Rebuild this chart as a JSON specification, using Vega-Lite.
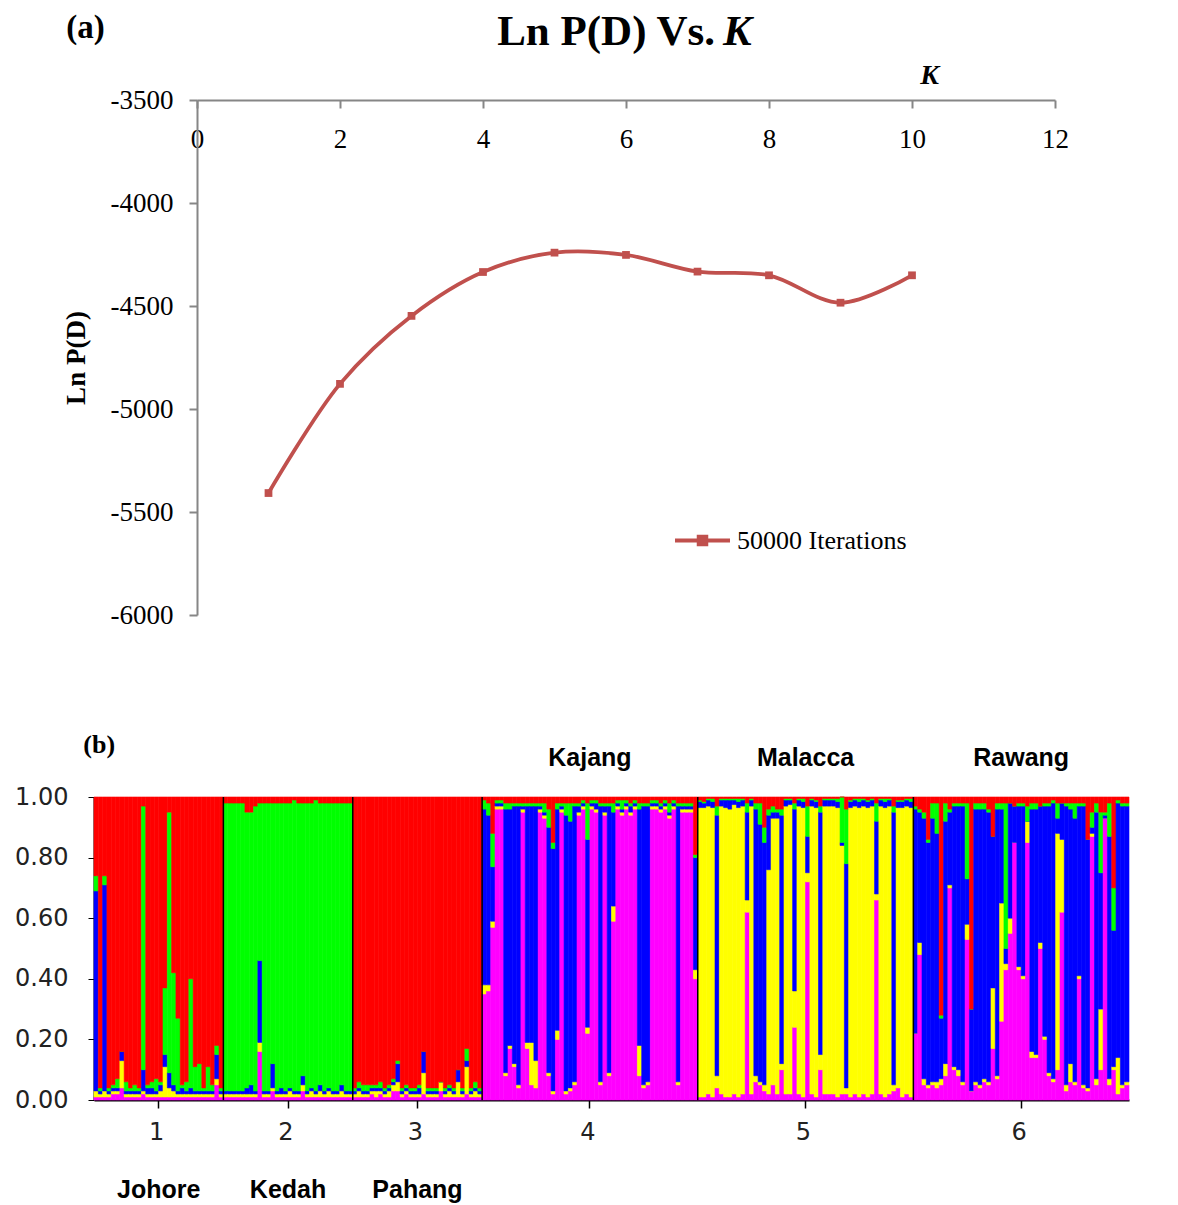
{
"$schema":"https://vega.github.io/schema/vega-lite/v6.json",
"padding":{"left":14,"top":11,"right":0,"bottom":0},
"background":"white",
"config":{"view":{"stroke":null},"font":"Liberation Serif"},
"resolve":{"scale":{"color":"independent","stroke":"independent"},"legend":{"color":"independent","stroke":"independent"}},
"spacing":104,
"vconcat":[
{"hconcat":[
 {"width":103,"height":10,"data":{"values":[{"s":0}]},"mark":{"type":"point","opacity":0},"encoding":{}},
 {"width":858,"height":515,
  "layer":[
   {"data":{"values":[
     {"K":1,"lnP":-5408,"series":"50000 Iterations"},
     {"K":2,"lnP":-4878,"series":"50000 Iterations"},
     {"K":3,"lnP":-4548,"series":"50000 Iterations"},
     {"K":4,"lnP":-4335,"series":"50000 Iterations"},
     {"K":5,"lnP":-4241,"series":"50000 Iterations"},
     {"K":6,"lnP":-4252,"series":"50000 Iterations"},
     {"K":7,"lnP":-4333,"series":"50000 Iterations"},
     {"K":8,"lnP":-4351,"series":"50000 Iterations"},
     {"K":9,"lnP":-4484,"series":"50000 Iterations"},
     {"K":10,"lnP":-4351,"series":"50000 Iterations"}]},
    "mark":{"type":"line","interpolate":"catmull-rom","strokeWidth":3.8,"point":{"shape":"square","filled":true,"size":60}},
    "encoding":{
     "x":{"field":"K","type":"quantitative","scale":{"domain":[0,12],"nice":false,"zero":false},
      "axis":{"orient":"bottom","offset":-515,"values":[0,2,4,6,8,10,12],"labelExpr":"'' + datum.value","grid":false,"domainColor":"#868686","domainWidth":2,"tickColor":"#868686","tickWidth":2,"tickSize":8,"labelFont":"Liberation Serif","labelFontSize":27,"labelColor":"black","labelPadding":18,"labelFlush":false,"labelOverlap":false,
       "title":"K","titleFont":"Liberation Serif","titleFontStyle":"italic","titleFontWeight":"bold","titleFontSize":28,"titleColor":"black","titleX":732,"titleY":-25,"titleBaseline":"middle","titleAlign":"center","titleAngle":0}},
     "y":{"field":"lnP","type":"quantitative","scale":{"domain":[-6000,-3500],"nice":false,"zero":false},
      "axis":{"values":[-6000,-5500,-5000,-4500,-4000,-3500],"labelExpr":"'' + datum.value","grid":false,"domainColor":"#868686","domainWidth":2,"tickColor":"#868686","tickWidth":2,"tickSize":8,"labelFont":"Liberation Serif","labelFontSize":27,"labelColor":"black","labelPadding":16,"labelFlush":false,"labelOverlap":false,
       "title":"Ln P(D)","titleFont":"Liberation Serif","titleFontSize":27,"titleFontWeight":"bold","titleColor":"black","titlePadding":20}},
     "color":{"field":"series","type":"nominal","scale":{"range":["#C0504D"]},
      "legend":{"orient":"none","legendX":579,"legendY":411,"title":null,"padding":0,"symbolType":"M-1,0H1M-0.14,-0.14H0.14V0.14H-0.14Z","symbolSize":3025,"symbolStrokeWidth":3.8,"labelFont":"Liberation Serif","labelFontSize":26,"labelColor":"black","labelOffset":5,"labelLimit":400,
       "encode":{"symbols":{"update":{"fill":{"value":"#C0504D"},"stroke":{"value":"#C0504D"},"strokeWidth":{"value":3.8},"opacity":{"value":1}}}}}}
    }},
   {"data":{"values":[{"t":"(a)"}]},"mark":{"type":"text","font":"Liberation Serif","fontWeight":"bold","fontSize":33,"align":"left","baseline":"middle","color":"black"},
    "encoding":{"x":{"datum":-1.83},"y":{"datum":-3150},"text":{"field":"t"}}},
   {"data":{"values":[{"t":"Ln P(D) Vs."}]},"mark":{"type":"text","font":"Liberation Serif","fontWeight":"bold","fontSize":43,"align":"right","baseline":"middle","color":"black"},
    "encoding":{"x":{"datum":7.245},"y":{"datum":-3170},"text":{"field":"t"}}},
   {"data":{"values":[{"t":"K"}]},"mark":{"type":"text","font":"Liberation Serif","fontWeight":"bold","fontStyle":"italic","fontSize":43,"align":"left","baseline":"middle","color":"black"},
    "encoding":{"x":{"datum":7.357},"y":{"datum":-3170},"text":{"field":"t"}}}
  ]}
],"spacing":0,"bounds":"flush"},
{"width":1035,"height":303,
 "layer":[
  {"data":{"values":[
{"i":1,"c1":0.01,"c2":0.02,"c3":0.66,"c4":0.05,"c5":0.26},
{"i":2,"c1":0.01,"c2":0.01,"c3":0.01,"c4":0.01,"c5":0.96},
{"i":3,"c1":0.01,"c2":0.02,"c3":0.68,"c4":0.03,"c5":0.26},
{"i":4,"c1":0.01,"c2":0.01,"c3":0.01,"c4":0.01,"c5":0.96},
{"i":5,"c1":0.02,"c2":0.01,"c3":0.01,"c4":0.01,"c5":0.95},
{"i":6,"c1":0.02,"c2":0.01,"c3":0.01,"c4":0.03,"c5":0.93},
{"i":7,"c1":0.04,"c2":0.09,"c3":0.03,"c4":0.0,"c5":0.84},
{"i":8,"c1":0.01,"c2":0.01,"c3":0.01,"c4":0.03,"c5":0.94},
{"i":9,"c1":0.01,"c2":0.01,"c3":0.01,"c4":0.01,"c5":0.96},
{"i":10,"c1":0.01,"c2":0.01,"c3":0.01,"c4":0.02,"c5":0.95},
{"i":11,"c1":0.01,"c2":0.01,"c3":0.01,"c4":0.01,"c5":0.96},
{"i":12,"c1":0.02,"c2":0.01,"c3":0.07,"c4":0.87,"c5":0.03},
{"i":13,"c1":0.01,"c2":0.01,"c3":0.02,"c4":0.01,"c5":0.95},
{"i":14,"c1":0.01,"c2":0.01,"c3":0.02,"c4":0.02,"c5":0.94},
{"i":15,"c1":0.01,"c2":0.01,"c3":0.01,"c4":0.04,"c5":0.93},
{"i":16,"c1":0.01,"c2":0.02,"c3":0.02,"c4":0.01,"c5":0.94},
{"i":17,"c1":0.01,"c2":0.10,"c3":0.04,"c4":0.22,"c5":0.63},
{"i":18,"c1":0.01,"c2":0.03,"c3":0.05,"c4":0.86,"c5":0.05},
{"i":19,"c1":0.01,"c2":0.02,"c3":0.02,"c4":0.37,"c5":0.58},
{"i":20,"c1":0.01,"c2":0.01,"c3":0.01,"c4":0.24,"c5":0.73},
{"i":21,"c1":0.01,"c2":0.01,"c3":0.02,"c4":0.01,"c5":0.95},
{"i":22,"c1":0.01,"c2":0.01,"c3":0.01,"c4":0.03,"c5":0.94},
{"i":23,"c1":0.01,"c2":0.01,"c3":0.02,"c4":0.36,"c5":0.60},
{"i":24,"c1":0.01,"c2":0.01,"c3":0.01,"c4":0.08,"c5":0.89},
{"i":25,"c1":0.01,"c2":0.01,"c3":0.01,"c4":0.09,"c5":0.88},
{"i":26,"c1":0.01,"c2":0.01,"c3":0.01,"c4":0.01,"c5":0.96},
{"i":27,"c1":0.01,"c2":0.01,"c3":0.01,"c4":0.08,"c5":0.89},
{"i":28,"c1":0.01,"c2":0.01,"c3":0.01,"c4":0.02,"c5":0.95},
{"i":29,"c1":0.05,"c2":0.02,"c3":0.08,"c4":0.03,"c5":0.82},
{"i":30,"c1":0.01,"c2":0.01,"c3":0.01,"c4":0.01,"c5":0.96},
{"i":31,"c1":0.01,"c2":0.01,"c3":0.01,"c4":0.95,"c5":0.02},
{"i":32,"c1":0.01,"c2":0.01,"c3":0.01,"c4":0.95,"c5":0.02},
{"i":33,"c1":0.01,"c2":0.01,"c3":0.01,"c4":0.95,"c5":0.02},
{"i":34,"c1":0.01,"c2":0.01,"c3":0.01,"c4":0.95,"c5":0.02},
{"i":35,"c1":0.01,"c2":0.01,"c3":0.01,"c4":0.95,"c5":0.02},
{"i":36,"c1":0.01,"c2":0.01,"c3":0.02,"c4":0.91,"c5":0.05},
{"i":37,"c1":0.01,"c2":0.01,"c3":0.03,"c4":0.90,"c5":0.05},
{"i":38,"c1":0.01,"c2":0.01,"c3":0.01,"c4":0.94,"c5":0.03},
{"i":39,"c1":0.16,"c2":0.03,"c3":0.27,"c4":0.52,"c5":0.02},
{"i":40,"c1":0.01,"c2":0.01,"c3":0.01,"c4":0.95,"c5":0.02},
{"i":41,"c1":0.01,"c2":0.01,"c3":0.01,"c4":0.95,"c5":0.02},
{"i":42,"c1":0.03,"c2":0.01,"c3":0.08,"c4":0.86,"c5":0.02},
{"i":43,"c1":0.01,"c2":0.01,"c3":0.01,"c4":0.95,"c5":0.02},
{"i":44,"c1":0.01,"c2":0.01,"c3":0.02,"c4":0.94,"c5":0.02},
{"i":45,"c1":0.01,"c2":0.01,"c3":0.01,"c4":0.95,"c5":0.02},
{"i":46,"c1":0.01,"c2":0.02,"c3":0.01,"c4":0.94,"c5":0.02},
{"i":47,"c1":0.01,"c2":0.01,"c3":0.01,"c4":0.96,"c5":0.01},
{"i":48,"c1":0.01,"c2":0.01,"c3":0.01,"c4":0.95,"c5":0.02},
{"i":49,"c1":0.03,"c2":0.02,"c3":0.03,"c4":0.90,"c5":0.02},
{"i":50,"c1":0.01,"c2":0.01,"c3":0.01,"c4":0.95,"c5":0.02},
{"i":51,"c1":0.01,"c2":0.02,"c3":0.01,"c4":0.94,"c5":0.02},
{"i":52,"c1":0.01,"c2":0.01,"c3":0.01,"c4":0.96,"c5":0.01},
{"i":53,"c1":0.01,"c2":0.02,"c3":0.02,"c4":0.93,"c5":0.02},
{"i":54,"c1":0.01,"c2":0.01,"c3":0.01,"c4":0.95,"c5":0.02},
{"i":55,"c1":0.01,"c2":0.02,"c3":0.01,"c4":0.94,"c5":0.02},
{"i":56,"c1":0.01,"c2":0.01,"c3":0.01,"c4":0.95,"c5":0.02},
{"i":57,"c1":0.01,"c2":0.01,"c3":0.01,"c4":0.95,"c5":0.02},
{"i":58,"c1":0.01,"c2":0.02,"c3":0.02,"c4":0.93,"c5":0.02},
{"i":59,"c1":0.01,"c2":0.01,"c3":0.01,"c4":0.95,"c5":0.02},
{"i":60,"c1":0.01,"c2":0.01,"c3":0.01,"c4":0.95,"c5":0.02},
{"i":61,"c1":0.01,"c2":0.01,"c3":0.01,"c4":0.01,"c5":0.96},
{"i":62,"c1":0.01,"c2":0.02,"c3":0.01,"c4":0.02,"c5":0.94},
{"i":63,"c1":0.01,"c2":0.01,"c3":0.01,"c4":0.02,"c5":0.95},
{"i":64,"c1":0.01,"c2":0.01,"c3":0.01,"c4":0.02,"c5":0.95},
{"i":65,"c1":0.02,"c2":0.01,"c3":0.01,"c4":0.01,"c5":0.95},
{"i":66,"c1":0.01,"c2":0.02,"c3":0.01,"c4":0.01,"c5":0.95},
{"i":67,"c1":0.02,"c2":0.01,"c3":0.01,"c4":0.02,"c5":0.94},
{"i":68,"c1":0.01,"c2":0.01,"c3":0.01,"c4":0.01,"c5":0.96},
{"i":69,"c1":0.01,"c2":0.02,"c3":0.01,"c4":0.01,"c5":0.95},
{"i":70,"c1":0.03,"c2":0.02,"c3":0.01,"c4":0.01,"c5":0.93},
{"i":71,"c1":0.03,"c2":0.03,"c3":0.06,"c4":0.01,"c5":0.87},
{"i":72,"c1":0.01,"c2":0.01,"c3":0.01,"c4":0.01,"c5":0.96},
{"i":73,"c1":0.02,"c2":0.01,"c3":0.01,"c4":0.01,"c5":0.95},
{"i":74,"c1":0.01,"c2":0.01,"c3":0.01,"c4":0.01,"c5":0.96},
{"i":75,"c1":0.01,"c2":0.01,"c3":0.01,"c4":0.01,"c5":0.96},
{"i":76,"c1":0.01,"c2":0.01,"c3":0.02,"c4":0.01,"c5":0.95},
{"i":77,"c1":0.02,"c2":0.07,"c3":0.07,"c4":0.0,"c5":0.84},
{"i":78,"c1":0.01,"c2":0.01,"c3":0.01,"c4":0.01,"c5":0.96},
{"i":79,"c1":0.01,"c2":0.01,"c3":0.01,"c4":0.01,"c5":0.96},
{"i":80,"c1":0.01,"c2":0.01,"c3":0.01,"c4":0.01,"c5":0.96},
{"i":81,"c1":0.03,"c2":0.03,"c3":0.0,"c4":0.0,"c5":0.94},
{"i":82,"c1":0.01,"c2":0.01,"c3":0.01,"c4":0.01,"c5":0.96},
{"i":83,"c1":0.01,"c2":0.02,"c3":0.01,"c4":0.01,"c5":0.95},
{"i":84,"c1":0.01,"c2":0.01,"c3":0.01,"c4":0.01,"c5":0.96},
{"i":85,"c1":0.01,"c2":0.05,"c3":0.04,"c4":0.0,"c5":0.90},
{"i":86,"c1":0.01,"c2":0.01,"c3":0.01,"c4":0.01,"c5":0.96},
{"i":87,"c1":0.02,"c2":0.09,"c3":0.02,"c4":0.04,"c5":0.83},
{"i":88,"c1":0.01,"c2":0.01,"c3":0.01,"c4":0.01,"c5":0.96},
{"i":89,"c1":0.01,"c2":0.02,"c3":0.01,"c4":0.02,"c5":0.94},
{"i":90,"c1":0.01,"c2":0.01,"c3":0.01,"c4":0.01,"c5":0.96},
{"i":91,"c1":0.35,"c2":0.03,"c3":0.58,"c4":0.03,"c5":0.01},
{"i":92,"c1":0.36,"c2":0.02,"c3":0.56,"c4":0.04,"c5":0.02},
{"i":93,"c1":0.57,"c2":0.02,"c3":0.18,"c4":0.11,"c5":0.12},
{"i":94,"c1":0.96,"c2":0.01,"c3":0.01,"c4":0.01,"c5":0.01},
{"i":95,"c1":0.96,"c2":0.01,"c3":0.01,"c4":0.01,"c5":0.01},
{"i":96,"c1":0.08,"c2":0.01,"c3":0.87,"c4":0.02,"c5":0.02},
{"i":97,"c1":0.17,"c2":0.01,"c3":0.78,"c4":0.02,"c5":0.02},
{"i":98,"c1":0.11,"c2":0.01,"c3":0.85,"c4":0.01,"c5":0.02},
{"i":99,"c1":0.04,"c2":0.01,"c3":0.92,"c4":0.01,"c5":0.02},
{"i":100,"c1":0.95,"c2":0.01,"c3":0.01,"c4":0.01,"c5":0.02},
{"i":101,"c1":0.17,"c2":0.02,"c3":0.78,"c4":0.01,"c5":0.02},
{"i":102,"c1":0.05,"c2":0.14,"c3":0.78,"c4":0.01,"c5":0.02},
{"i":103,"c1":0.04,"c2":0.09,"c3":0.84,"c4":0.01,"c5":0.02},
{"i":104,"c1":0.95,"c2":0.01,"c3":0.01,"c4":0.01,"c5":0.02},
{"i":105,"c1":0.93,"c2":0.01,"c3":0.01,"c4":0.03,"c5":0.02},
{"i":106,"c1":0.08,"c2":0.01,"c3":0.81,"c4":0.06,"c5":0.04},
{"i":107,"c1":0.02,"c2":0.01,"c3":0.80,"c4":0.02,"c5":0.15},
{"i":108,"c1":0.20,"c2":0.03,"c3":0.73,"c4":0.02,"c5":0.02},
{"i":109,"c1":0.95,"c2":0.01,"c3":0.01,"c4":0.01,"c5":0.02},
{"i":110,"c1":0.02,"c2":0.01,"c3":0.91,"c4":0.04,"c5":0.02},
{"i":111,"c1":0.03,"c2":0.01,"c3":0.88,"c4":0.06,"c5":0.02},
{"i":112,"c1":0.05,"c2":0.01,"c3":0.91,"c4":0.01,"c5":0.02},
{"i":113,"c1":0.94,"c2":0.01,"c3":0.02,"c4":0.01,"c5":0.02},
{"i":114,"c1":0.96,"c2":0.01,"c3":0.01,"c4":0.01,"c5":0.01},
{"i":115,"c1":0.22,"c2":0.02,"c3":0.62,"c4":0.12,"c5":0.02},
{"i":116,"c1":0.96,"c2":0.01,"c3":0.01,"c4":0.01,"c5":0.01},
{"i":117,"c1":0.95,"c2":0.01,"c3":0.02,"c4":0.01,"c5":0.01},
{"i":118,"c1":0.05,"c2":0.01,"c3":0.91,"c4":0.01,"c5":0.02},
{"i":119,"c1":0.94,"c2":0.01,"c3":0.02,"c4":0.01,"c5":0.02},
{"i":120,"c1":0.08,"c2":0.01,"c3":0.88,"c4":0.01,"c5":0.02},
{"i":121,"c1":0.59,"c2":0.05,"c3":0.31,"c4":0.03,"c5":0.02},
{"i":122,"c1":0.96,"c2":0.01,"c3":0.01,"c4":0.01,"c5":0.01},
{"i":123,"c1":0.94,"c2":0.01,"c3":0.01,"c4":0.03,"c5":0.01},
{"i":124,"c1":0.96,"c2":0.01,"c3":0.01,"c4":0.01,"c5":0.01},
{"i":125,"c1":0.94,"c2":0.01,"c3":0.02,"c4":0.01,"c5":0.02},
{"i":126,"c1":0.96,"c2":0.01,"c3":0.01,"c4":0.01,"c5":0.01},
{"i":127,"c1":0.08,"c2":0.10,"c3":0.78,"c4":0.02,"c5":0.02},
{"i":128,"c1":0.04,"c2":0.01,"c3":0.92,"c4":0.01,"c5":0.02},
{"i":129,"c1":0.05,"c2":0.01,"c3":0.91,"c4":0.01,"c5":0.02},
{"i":130,"c1":0.96,"c2":0.01,"c3":0.01,"c4":0.01,"c5":0.01},
{"i":131,"c1":0.96,"c2":0.01,"c3":0.01,"c4":0.01,"c5":0.01},
{"i":132,"c1":0.95,"c2":0.01,"c3":0.01,"c4":0.01,"c5":0.02},
{"i":133,"c1":0.96,"c2":0.01,"c3":0.01,"c4":0.01,"c5":0.01},
{"i":134,"c1":0.93,"c2":0.01,"c3":0.01,"c4":0.03,"c5":0.02},
{"i":135,"c1":0.96,"c2":0.01,"c3":0.01,"c4":0.01,"c5":0.01},
{"i":136,"c1":0.05,"c2":0.01,"c3":0.91,"c4":0.01,"c5":0.02},
{"i":137,"c1":0.95,"c2":0.01,"c3":0.01,"c4":0.01,"c5":0.02},
{"i":138,"c1":0.95,"c2":0.01,"c3":0.01,"c4":0.01,"c5":0.02},
{"i":139,"c1":0.95,"c2":0.01,"c3":0.01,"c4":0.01,"c5":0.02},
{"i":140,"c1":0.40,"c2":0.03,"c3":0.37,"c4":0.01,"c5":0.19},
{"i":141,"c1":0.01,"c2":0.955,"c3":0.02,"c4":0.005,"c5":0.01},
{"i":142,"c1":0.01,"c2":0.955,"c3":0.015,"c4":0.005,"c5":0.015},
{"i":143,"c1":0.02,"c2":0.95,"c3":0.02,"c4":0.005,"c5":0.005},
{"i":144,"c1":0.01,"c2":0.955,"c3":0.02,"c4":0.01,"c5":0.005},
{"i":145,"c1":0.04,"c2":0.04,"c3":0.86,"c4":0.03,"c5":0.03},
{"i":146,"c1":0.02,"c2":0.95,"c3":0.02,"c4":0.005,"c5":0.005},
{"i":147,"c1":0.01,"c2":0.955,"c3":0.025,"c4":0.005,"c5":0.005},
{"i":148,"c1":0.01,"c2":0.95,"c3":0.03,"c4":0.005,"c5":0.005},
{"i":149,"c1":0.02,"c2":0.955,"c3":0.015,"c4":0.005,"c5":0.005},
{"i":150,"c1":0.01,"c2":0.955,"c3":0.02,"c4":0.01,"c5":0.005},
{"i":151,"c1":0.02,"c2":0.95,"c3":0.02,"c4":0.005,"c5":0.005},
{"i":152,"c1":0.62,"c2":0.04,"c3":0.29,"c4":0.03,"c5":0.02},
{"i":153,"c1":0.02,"c2":0.95,"c3":0.02,"c4":0.005,"c5":0.005},
{"i":154,"c1":0.06,"c2":0.02,"c3":0.88,"c4":0.02,"c5":0.02},
{"i":155,"c1":0.05,"c2":0.01,"c3":0.85,"c4":0.07,"c5":0.02},
{"i":156,"c1":0.03,"c2":0.02,"c3":0.80,"c4":0.05,"c5":0.10},
{"i":157,"c1":0.02,"c2":0.74,"c3":0.18,"c4":0.02,"c5":0.04},
{"i":158,"c1":0.05,"c2":0.88,"c3":0.02,"c4":0.02,"c5":0.03},
{"i":159,"c1":0.02,"c2":0.91,"c3":0.02,"c4":0.01,"c5":0.04},
{"i":160,"c1":0.10,"c2":0.02,"c3":0.82,"c4":0.02,"c5":0.04},
{"i":161,"c1":0.02,"c2":0.95,"c3":0.02,"c4":0.005,"c5":0.005},
{"i":162,"c1":0.02,"c2":0.955,"c3":0.015,"c4":0.005,"c5":0.005},
{"i":163,"c1":0.24,"c2":0.12,"c3":0.60,"c4":0.02,"c5":0.02},
{"i":164,"c1":0.02,"c2":0.95,"c3":0.02,"c4":0.005,"c5":0.005},
{"i":165,"c1":0.01,"c2":0.955,"c3":0.02,"c4":0.01,"c5":0.005},
{"i":166,"c1":0.72,"c2":0.03,"c3":0.12,"c4":0.10,"c5":0.03},
{"i":167,"c1":0.02,"c2":0.95,"c3":0.02,"c4":0.005,"c5":0.005},
{"i":168,"c1":0.01,"c2":0.955,"c3":0.02,"c4":0.005,"c5":0.01},
{"i":169,"c1":0.10,"c2":0.05,"c3":0.80,"c4":0.02,"c5":0.03},
{"i":170,"c1":0.02,"c2":0.95,"c3":0.02,"c4":0.005,"c5":0.005},
{"i":171,"c1":0.02,"c2":0.95,"c3":0.02,"c4":0.005,"c5":0.005},
{"i":172,"c1":0.02,"c2":0.95,"c3":0.02,"c4":0.005,"c5":0.005},
{"i":173,"c1":0.01,"c2":0.955,"c3":0.02,"c4":0.01,"c5":0.005},
{"i":174,"c1":0.02,"c2":0.82,"c3":0.01,"c4":0.15,"c5":0.0},
{"i":175,"c1":0.02,"c2":0.02,"c3":0.74,"c4":0.18,"c5":0.04},
{"i":176,"c1":0.01,"c2":0.955,"c3":0.02,"c4":0.005,"c5":0.01},
{"i":177,"c1":0.02,"c2":0.95,"c3":0.02,"c4":0.005,"c5":0.005},
{"i":178,"c1":0.01,"c2":0.955,"c3":0.02,"c4":0.01,"c5":0.005},
{"i":179,"c1":0.02,"c2":0.95,"c3":0.02,"c4":0.005,"c5":0.005},
{"i":180,"c1":0.01,"c2":0.955,"c3":0.02,"c4":0.005,"c5":0.01},
{"i":181,"c1":0.02,"c2":0.95,"c3":0.02,"c4":0.005,"c5":0.005},
{"i":182,"c1":0.66,"c2":0.02,"c3":0.24,"c4":0.06,"c5":0.02},
{"i":183,"c1":0.02,"c2":0.95,"c3":0.02,"c4":0.005,"c5":0.005},
{"i":184,"c1":0.01,"c2":0.955,"c3":0.02,"c4":0.01,"c5":0.005},
{"i":185,"c1":0.02,"c2":0.95,"c3":0.02,"c4":0.005,"c5":0.005},
{"i":186,"c1":0.03,"c2":0.02,"c3":0.90,"c4":0.02,"c5":0.03},
{"i":187,"c1":0.04,"c2":0.925,"c3":0.02,"c4":0.005,"c5":0.01},
{"i":188,"c1":0.01,"c2":0.955,"c3":0.02,"c4":0.005,"c5":0.01},
{"i":189,"c1":0.02,"c2":0.95,"c3":0.02,"c4":0.005,"c5":0.005},
{"i":190,"c1":0.01,"c2":0.955,"c3":0.02,"c4":0.01,"c5":0.005},
{"i":191,"c1":0.22,"c2":0.0,"c3":0.74,"c4":0.01,"c5":0.03},
{"i":192,"c1":0.48,"c2":0.04,"c3":0.43,"c4":0.01,"c5":0.04},
{"i":193,"c1":0.05,"c2":0.02,"c3":0.86,"c4":0.02,"c5":0.05},
{"i":194,"c1":0.04,"c2":0.01,"c3":0.80,"c4":0.01,"c5":0.14},
{"i":195,"c1":0.05,"c2":0.01,"c3":0.87,"c4":0.05,"c5":0.02},
{"i":196,"c1":0.04,"c2":0.02,"c3":0.82,"c4":0.10,"c5":0.02},
{"i":197,"c1":0.05,"c2":0.02,"c3":0.20,"c4":0.01,"c5":0.72},
{"i":198,"c1":0.08,"c2":0.04,"c3":0.80,"c4":0.06,"c5":0.02},
{"i":199,"c1":0.70,"c2":0.01,"c3":0.24,"c4":0.01,"c5":0.04},
{"i":200,"c1":0.10,"c2":0.01,"c3":0.86,"c4":0.01,"c5":0.02},
{"i":201,"c1":0.08,"c2":0.02,"c3":0.87,"c4":0.01,"c5":0.02},
{"i":202,"c1":0.05,"c2":0.01,"c3":0.91,"c4":0.01,"c5":0.02},
{"i":203,"c1":0.53,"c2":0.05,"c3":0.15,"c4":0.25,"c5":0.02},
{"i":204,"c1":0.03,"c2":0.0,"c3":0.27,"c4":0.0,"c5":0.70},
{"i":205,"c1":0.05,"c2":0.01,"c3":0.90,"c4":0.02,"c5":0.02},
{"i":206,"c1":0.04,"c2":0.01,"c3":0.91,"c4":0.02,"c5":0.02},
{"i":207,"c1":0.06,"c2":0.01,"c3":0.89,"c4":0.02,"c5":0.02},
{"i":208,"c1":0.05,"c2":0.01,"c3":0.89,"c4":0.01,"c5":0.04},
{"i":209,"c1":0.17,"c2":0.20,"c3":0.50,"c4":0.0,"c5":0.13},
{"i":210,"c1":0.07,"c2":0.01,"c3":0.88,"c4":0.02,"c5":0.02},
{"i":211,"c1":0.26,"c2":0.39,"c3":0.31,"c4":0.02,"c5":0.02},
{"i":212,"c1":0.43,"c2":0.02,"c3":0.05,"c4":0.48,"c5":0.02},
{"i":213,"c1":0.55,"c2":0.05,"c3":0.38,"c4":0.0,"c5":0.02},
{"i":214,"c1":0.85,"c2":0.0,"c3":0.12,"c4":0.0,"c5":0.03},
{"i":215,"c1":0.43,"c2":0.01,"c3":0.53,"c4":0.01,"c5":0.02},
{"i":216,"c1":0.40,"c2":0.01,"c3":0.56,"c4":0.01,"c5":0.02},
{"i":217,"c1":0.85,"c2":0.07,"c3":0.0,"c4":0.05,"c5":0.03},
{"i":218,"c1":0.14,"c2":0.02,"c3":0.80,"c4":0.02,"c5":0.02},
{"i":219,"c1":0.14,"c2":0.01,"c3":0.81,"c4":0.02,"c5":0.02},
{"i":220,"c1":0.50,"c2":0.02,"c3":0.45,"c4":0.0,"c5":0.03},
{"i":221,"c1":0.20,"c2":0.01,"c3":0.76,"c4":0.01,"c5":0.02},
{"i":222,"c1":0.08,"c2":0.01,"c3":0.88,"c4":0.01,"c5":0.02},
{"i":223,"c1":0.06,"c2":0.01,"c3":0.91,"c4":0.01,"c5":0.01},
{"i":224,"c1":0.10,"c2":0.78,"c3":0.05,"c4":0.05,"c5":0.02},
{"i":225,"c1":0.62,"c2":0.24,"c3":0.12,"c4":0.0,"c5":0.02},
{"i":226,"c1":0.03,"c2":0.02,"c3":0.92,"c4":0.01,"c5":0.02},
{"i":227,"c1":0.06,"c2":0.06,"c3":0.84,"c4":0.02,"c5":0.02},
{"i":228,"c1":0.05,"c2":0.01,"c3":0.87,"c4":0.05,"c5":0.02},
{"i":229,"c1":0.40,"c2":0.01,"c3":0.56,"c4":0.01,"c5":0.02},
{"i":230,"c1":0.04,"c2":0.01,"c3":0.92,"c4":0.01,"c5":0.02},
{"i":231,"c1":0.03,"c2":0.01,"c3":0.82,"c4":0.0,"c5":0.14},
{"i":232,"c1":0.87,"c2":0.01,"c3":0.02,"c4":0.05,"c5":0.05},
{"i":233,"c1":0.05,"c2":0.02,"c3":0.88,"c4":0.03,"c5":0.02},
{"i":234,"c1":0.10,"c2":0.20,"c3":0.45,"c4":0.20,"c5":0.05},
{"i":235,"c1":0.93,"c2":0.0,"c3":0.01,"c4":0.01,"c5":0.05},
{"i":236,"c1":0.05,"c2":0.02,"c3":0.80,"c4":0.11,"c5":0.02},
{"i":237,"c1":0.10,"c2":0.01,"c3":0.45,"c4":0.14,"c5":0.30},
{"i":238,"c1":0.02,"c2":0.12,"c3":0.84,"c4":0.01,"c5":0.01},
{"i":239,"c1":0.04,"c2":0.01,"c3":0.92,"c4":0.01,"c5":0.02},
{"i":240,"c1":0.05,"c2":0.01,"c3":0.91,"c4":0.01,"c5":0.02}
   ]},
   "transform":[{"fold":["c1","c2","c3","c4","c5"],"as":["cluster","q"]}],
   "mark":{"type":"bar","strokeWidth":0.6},
   "encoding":{
    "x":{"field":"i","type":"ordinal","scale":{"paddingInner":0,"paddingOuter":0},
     "axis":{"values":[15,45,75,115,165,215],"bandPosition":1,"labelExpr":"datum.value == 15 ? '1' : datum.value == 45 ? '2' : datum.value == 75 ? '3' : datum.value == 115 ? '4' : datum.value == 165 ? '5' : '6'","title":null,"labelAngle":0,"domainColor":"black","domainWidth":2,"tickColor":"black","tickWidth":1.5,"tickSize":8,"labelFont":"DejaVu Sans","labelFontSize":24,"labelColor":"#222","labelPadding":12}},
    "y":{"field":"q","type":"quantitative","stack":"zero","scale":{"domain":[0,1],"nice":false},
     "axis":{"values":[0,0.2,0.4,0.6,0.8,1],"format":".2f","title":null,"grid":false,"domainColor":"black","domainWidth":2,"tickColor":"black","tickSize":6,"labelFont":"DejaVu Sans","labelFontSize":24,"labelColor":"#222","labelPadding":20}},
    "color":{"field":"cluster","type":"nominal","scale":{"domain":["c1","c2","c3","c4","c5"],"range":["#FF00FF","#FFFF00","#0000FF","#00FF00","#FF0000"]},"legend":null},
    "stroke":{"field":"cluster","type":"nominal","scale":{"domain":["c1","c2","c3","c4","c5"],"range":["#FF00FF","#FFFF00","#0000FF","#00FF00","#FF0000"]},"legend":null},
    "order":{"field":"cluster","sort":"ascending"}
   }},
  {"data":{"values":[{"i":31},{"i":61},{"i":91},{"i":141},{"i":191}]},
   "mark":{"type":"rule","color":"black","strokeWidth":1.5},
   "encoding":{"x":{"field":"i","type":"ordinal","bandPosition":0}}},
  {"data":{"values":[{"i":15,"name":"Johore"},{"i":45,"name":"Kedah"},{"i":75,"name":"Pahang"}]},
   "mark":{"type":"text","font":"Liberation Sans","fontWeight":"bold","fontSize":25,"baseline":"middle","color":"black"},
   "encoding":{"x":{"field":"i","type":"ordinal","bandPosition":1},"y":{"datum":-0.297},"text":{"field":"name"}}},
  {"data":{"values":[{"i":115,"name":"Kajang"},{"i":165,"name":"Malacca"},{"i":215,"name":"Rawang"}]},
   "mark":{"type":"text","font":"Liberation Sans","fontWeight":"bold","fontSize":25,"baseline":"middle","color":"black"},
   "encoding":{"x":{"field":"i","type":"ordinal","bandPosition":1},"y":{"datum":1.129},"text":{"field":"name"}}},
  {"data":{"values":[{"t":"(b)","i":1}]},
   "mark":{"type":"text","font":"Liberation Serif","fontWeight":"bold","fontSize":26,"baseline":"middle","color":"black","dx":3},
   "encoding":{"x":{"field":"i","type":"ordinal"},"y":{"datum":1.17},"text":{"field":"t"}}}
 ]}
]
}
